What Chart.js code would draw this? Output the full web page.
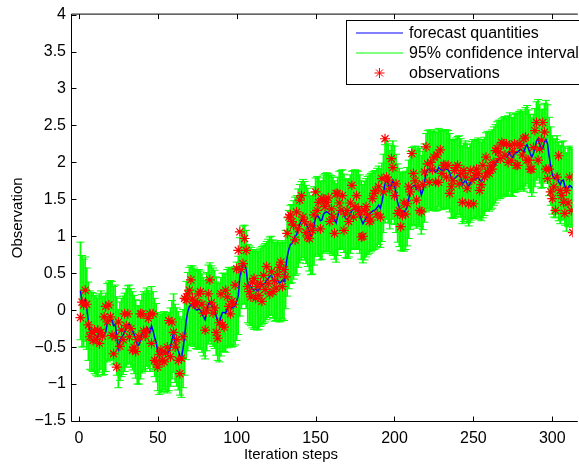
<!DOCTYPE html>
<html>
<head>
<meta charset="utf-8">
<script src="https://cdn.jsdelivr.net/npm/chart.js@4.4.1/dist/chart.umd.min.js"></script>
<style>
html, body { margin: 0; padding: 0; background: #fff; }
#wrap { width: 579px; height: 464px; }
</style>
</head>
<body>
<div id="wrap"><canvas id="c" width="579" height="464"></canvas></div>
<script>
// Прогноз (синяя линия), шаги 1..313
const forecast = [
  0.26, 0.12, 0.10, 0.15, 0.02, -0.15, -0.27, -0.29, -0.30, -0.33,
  -0.35, -0.37, -0.31, -0.27, -0.35, -0.34, -0.30, -0.17, -0.15, -0.13,
  -0.14, -0.21, -0.19, -0.35, -0.52, -0.42, -0.37, -0.34, -0.30, -0.24,
  -0.20, -0.19, -0.24, -0.28, -0.33, -0.39, -0.47, -0.47, -0.40, -0.32,
  -0.28, -0.30, -0.23, -0.26, -0.30, -0.21, -0.28, -0.37, -0.44, -0.56,
  -0.61, -0.59, -0.57, -0.55, -0.57, -0.59, -0.56, -0.50, -0.40, -0.31,
  -0.45, -0.50, -0.55, -0.62, -0.65, -0.52, -0.35, -0.14, -0.02, 0.05,
  0.07, 0.07, 0.04, 0.01, 0.00, 0.02, 0.00, -0.04, -0.09, -0.13,
  -0.02, 0.08, 0.11, 0.07, 0.04, 0.01, -0.08, -0.15, -0.17, -0.09,
  -0.03, -0.03, -0.04, 0.02, 0.05, 0.04, 0.03, 0.04, 0.06, 0.12,
  0.20, 0.45, 0.55, 0.61, 0.62, 0.55, 0.36, 0.34, 0.32, 0.29,
  0.27, 0.29, 0.26, 0.27, 0.31, 0.33, 0.35, 0.37, 0.40, 0.43,
  0.46, 0.47, 0.42, 0.38, 0.39, 0.41, 0.37, 0.38, 0.41, 0.39,
  0.55, 0.72, 0.82, 0.89, 0.90, 0.95, 1.00, 1.02, 1.11, 1.17,
  1.21, 1.24, 1.21, 1.16, 1.12, 1.06, 1.01, 1.02, 1.14, 1.26,
  1.28, 1.26, 1.21, 1.22, 1.30, 1.32, 1.33, 1.32, 1.30, 1.29,
  1.27, 1.22, 1.18, 1.27, 1.35, 1.36, 1.37, 1.31, 1.24, 1.23,
  1.25, 1.30, 1.35, 1.36, 1.37, 1.36, 1.35, 1.30, 1.22, 1.17,
  1.21, 1.25, 1.28, 1.30, 1.32, 1.34, 1.35, 1.36, 1.39, 1.42,
  1.38, 1.46, 1.58, 1.71, 1.76, 1.72, 1.63, 1.70, 1.76, 1.69,
  1.58, 1.45, 1.39, 1.34, 1.33, 1.33, 1.35, 1.40, 1.50, 1.62,
  1.67, 1.68, 1.69, 1.64, 1.68, 1.66, 1.56, 1.62, 1.72, 1.86,
  1.90, 1.91, 1.88, 1.89, 1.91, 1.87, 1.88, 1.93, 1.91, 1.89,
  1.90, 1.91, 1.91, 1.90, 1.86, 1.78, 1.77, 1.78, 1.80, 1.82,
  1.83, 1.79, 1.70, 1.73, 1.76, 1.71, 1.67, 1.72, 1.75, 1.78,
  1.77, 1.78, 1.80, 1.76, 1.74, 1.78, 1.81, 1.87, 1.89, 1.87,
  1.89, 1.91, 1.95, 1.98, 2.02, 2.04, 2.04, 2.06, 2.08, 2.09,
  2.07, 2.10, 2.14, 2.08, 2.07, 2.12, 2.13, 2.14, 2.16, 2.18,
  2.16, 2.14, 2.21, 2.24, 2.18, 2.12, 2.07, 2.12, 2.20, 2.29,
  2.32, 2.25, 2.18, 2.19, 2.27, 2.31, 2.25, 2.08, 1.95, 1.83,
  1.79, 1.78, 1.83, 1.74, 1.70, 1.75, 1.76, 1.68, 1.60, 1.66,
  1.69, 1.67, 1.65
];

// Наблюдения (красные звёздочки)
const observations = [
  -0.10, 0.11, 0.07, 0.27, 0.08, -0.20, -0.36, -0.30, -0.41, -0.27,
  -0.40, -0.27, -0.45, -0.30, -0.35, -0.09, 0.05, -0.16, 0.07, -0.09,
  -0.34, -0.59, -0.36, -0.77, -0.16, -0.49, -0.27, -0.40, -0.05, -0.21,
  -0.05, -0.36, -0.25, -0.54, -0.50, -0.56, -0.40, -0.36, -0.05, -0.05,
  -0.28, -0.35, -0.28, -0.11, -0.05, -0.45, -0.05, -0.68, -0.70, -0.77,
  -0.60, -0.54, -0.68, -0.70, -0.58, -0.50, -0.14, -0.63, -0.16, -0.30,
  -0.50, -0.40, -0.68, -0.86, -0.65, -0.36, 0.16, 0.14, 0.22, 0.27,
  0.41, 0.15, 0.09, 0.07, 0.10, 0.22, 0.25, 0.08, -0.04, -0.27,
  0.00, 0.22, 0.41, 0.10, -0.04, 0.03, -0.30, -0.38, -0.17, 0.22,
  -0.20, -0.23, 0.27, 0.18, 0.05, -0.05, 0.12, 0.08, 0.34, 0.56,
  0.81, 1.06, 0.55, 0.63, 0.97, 0.81, 0.32, 0.25, 0.18, 0.38,
  0.43, 0.16, 0.32, 0.20, 0.36, 0.12, 0.47, 0.28, 0.59, 0.36,
  0.22, 0.52, 0.25, 0.40, 0.30, 0.48, 0.58, 0.65, 0.32, 0.55,
  0.45, 1.04, 1.26, 1.29, 1.20, 1.15, 0.95, 1.33, 1.10, 1.49,
  1.55, 1.26, 1.20, 1.05, 0.99, 0.97, 1.15, 1.08, 1.29, 1.60,
  1.35, 1.46, 1.10, 1.51, 1.50, 1.40, 1.46, 1.52, 1.20, 1.37,
  1.26, 1.04, 1.58, 1.58, 1.45, 1.35, 1.55, 1.08, 1.30, 1.35,
  1.20, 1.45, 1.69, 1.26, 1.40, 1.55, 1.37, 1.30, 0.99, 1.00,
  1.35, 1.40, 1.29, 1.20, 1.22, 1.51, 1.58, 1.62, 1.30, 1.67,
  1.26, 1.78, 1.60, 2.32, 1.80, 1.76, 1.65, 2.05, 1.93, 1.55,
  1.71, 1.31, 1.35, 1.13, 1.28, 1.45, 1.30, 1.44, 1.67, 1.60,
  2.12, 1.85, 1.75, 1.49, 1.67, 1.35, 1.33, 1.70, 1.87, 2.21,
  1.98, 1.73, 2.00, 1.90, 2.07, 1.73, 2.10, 1.73, 2.17, 1.85,
  1.96, 1.96, 1.80, 1.96, 1.58, 1.67, 1.75, 1.89, 1.93, 1.96,
  1.71, 1.85, 1.46, 1.89, 1.80, 1.65, 1.44, 1.89, 1.76, 1.44,
  1.82, 1.91, 1.85, 1.62, 1.70, 1.96, 1.80, 2.07, 1.87, 1.85,
  1.95, 1.91, 2.00, 2.16, 2.19, 2.14, 2.05, 2.27, 2.25, 2.10,
  2.25, 2.00, 2.23, 2.03, 2.15, 2.25, 1.96, 1.96, 2.25, 2.23,
  2.10, 2.32, 2.34, 2.03, 2.03, 1.91, 1.91, 2.20, 2.43, 2.54,
  2.03, 2.18, 2.30, 2.54, 2.41, 1.91, 1.78, 1.91, 1.60, 1.51,
  1.67, 1.35, 1.80, 2.09, 1.62, 1.55, 1.46, 1.31, 1.62, 1.45,
  1.80, 1.35, 1.05
];

// Полуширина 95% доверительного интервала
const ciHalfFirst = [0.66, 0.62, 0.59, 0.57, 0.55];
const ciHalfSteady = 0.53;

const xTicks = [0, 50, 100, 150, 200, 250, 300];
const yTicks = [-1.5, -1, -0.5, 0, 0.5, 1, 1.5, 2, 2.5, 3, 3.5, 4];
const legendLabels = ['forecast quantities', '95% confidence interval', 'observations'];
const xTitle = 'Iteration steps';
const yTitle = 'Observation';

const FONT = '"Liberation Sans", Arial, Helvetica, sans-serif';
const BLUE = 'rgb(0,0,255)';
const GREEN = 'rgb(0,255,0)';
const RED = 'rgb(255,0,0)';

const steps = forecast.map((_, i) => i + 1);
const half = steps.map((s, i) => i < ciHalfFirst.length ? ciHalfFirst[i] : ciHalfSteady);

const fmt = v => (v < 0 ? '\u2212' : '') + Math.abs(v);

// Рамка и внутренние засечки как в MATLAB
const framePlugin = {
    id: 'frame',
    afterDraw(chart) {
        const { ctx, chartArea: a, scales } = chart;
        const L = a.left + 0.5, T = a.top - 0.5, B = a.bottom + 0.5, R = a.right + 5;
        ctx.save();
        ctx.strokeStyle = '#000';
        ctx.lineWidth = 1;
        ctx.beginPath();
        ctx.moveTo(R, T); ctx.lineTo(L, T); ctx.lineTo(L, B); ctx.lineTo(R, B);
        xTicks.forEach(v => {
            const px = Math.round(scales.x.getPixelForValue(v)) + 0.5;
            ctx.moveTo(px, B); ctx.lineTo(px, B - 5);
            ctx.moveTo(px, T); ctx.lineTo(px, T + 5);
        });
        yTicks.forEach(v => {
            const py = Math.round(scales.y.getPixelForValue(v)) + 0.5;
            ctx.moveTo(L, py); ctx.lineTo(L + 5, py);
        });
        ctx.stroke();

        ctx.fillStyle = '#000';
        ctx.font = '15px ' + FONT;
        ctx.textAlign = 'center';
        ctx.textBaseline = 'middle';
        ctx.fillText(xTitle, 291, 455);
        ctx.translate(18, (a.top + a.bottom) / 2);
        ctx.rotate(-Math.PI / 2);
        ctx.fillText(yTitle, 0, 0);
        ctx.restore();
    }
};

// Легенда в рамке справа сверху
const legendPlugin = {
    id: 'matlabLegend',
    afterDraw(chart) {
        const ctx = chart.ctx;
        const ds = chart.data.datasets;
        ctx.save();
        ctx.fillStyle = '#fff';
        ctx.fillRect(346.5, 20.5, 260, 64);
        ctx.strokeStyle = '#000';
        ctx.lineWidth = 1;
        ctx.strokeRect(346.5, 20.5, 260, 64);

        const rows = [33, 53, 73];
        ctx.lineWidth = 1;
        ctx.strokeStyle = ds[1].borderColor;
        ctx.beginPath(); ctx.moveTo(356, rows[0]); ctx.lineTo(403, rows[0]); ctx.stroke();
        ctx.strokeStyle = ds[2].backgroundColor;
        ctx.beginPath(); ctx.moveTo(356, rows[1]); ctx.lineTo(403, rows[1]); ctx.stroke();
        ctx.strokeStyle = ds[0].borderColor;
        Chart.helpers.drawPoint(ctx, { pointStyle: 'star', radius: 5, borderWidth: 1.2, rotation: 0 }, 379.5, rows[2]);

        ctx.fillStyle = '#000';
        ctx.font = '16px ' + FONT;
        ctx.textAlign = 'left';
        ctx.textBaseline = 'middle';
        legendLabels.forEach((t, i) => ctx.fillText(t, 409, rows[i] + 1));
        ctx.restore();
    }
};

const tickFont = { family: FONT, size: 16 };

new Chart(document.getElementById('c'), {
    type: 'scatter',
    data: {
        datasets: [
            {
                type: 'scatter',
                label: legendLabels[2],
                data: steps.map((s, i) => ({ x: s, y: observations[i] })),
                pointStyle: 'star',
                pointRadius: 5,
                borderColor: RED,
                backgroundColor: RED,
                pointBorderWidth: 1.2,
                order: 0
            },
            {
                type: 'line',
                label: legendLabels[0],
                data: steps.map((s, i) => ({ x: s, y: forecast[i] })),
                borderColor: BLUE,
                borderWidth: 1.5,
                pointRadius: 0,
                tension: 0,
                fill: false,
                order: 1
            },
            {
                type: 'bar',
                label: legendLabels[1],
                data: steps.map((s, i) => ({ x: s, y: [forecast[i] - half[i], forecast[i] + half[i]] })),
                backgroundColor: GREEN,
                borderWidth: 0,
                barThickness: 1,
                grouped: false,
                order: 4
            },
            {
                type: 'scatter',
                label: 'upper',
                data: steps.map((s, i) => ({ x: s, y: forecast[i] + half[i] })),
                pointStyle: 'line',
                pointRadius: 4,
                borderColor: GREEN,
                pointBorderWidth: 1,
                order: 3
            },
            {
                type: 'scatter',
                label: 'lower',
                data: steps.map((s, i) => ({ x: s, y: forecast[i] - half[i] })),
                pointStyle: 'line',
                pointRadius: 4,
                borderColor: GREEN,
                pointBorderWidth: 1,
                order: 3
            }
        ]
    },
    options: {
        responsive: false,
        animation: false,
        devicePixelRatio: 1,
        layout: { padding: { top: 14, right: 0, left: 0, bottom: 0 } },
        plugins: {
            legend: { display: false },
            tooltip: { enabled: false }
        },
        scales: {
            x: {
                type: 'linear',
                min: -5,
                max: 313,
                offset: false,
                grid: { display: false, drawTicks: false },
                border: { display: false },
                ticks: { font: tickFont, color: '#000', padding: 8, maxRotation: 0, autoSkip: false, callback: fmt },
                afterBuildTicks: s => { s.ticks = xTicks.map(v => ({ value: v })); },
                afterFit: s => { s.height = 43; }
            },
            y: {
                type: 'linear',
                min: -1.5,
                max: 4,
                grid: { display: false, drawTicks: false },
                border: { display: false },
                ticks: { font: tickFont, color: '#000', padding: 5, autoSkip: false, callback: fmt },
                afterBuildTicks: s => { s.ticks = yTicks.map(v => ({ value: v })); },
                afterFit: s => { s.width = 71; }
            }
        }
    },
    plugins: [framePlugin, legendPlugin]
});
</script>
</body>
</html>
